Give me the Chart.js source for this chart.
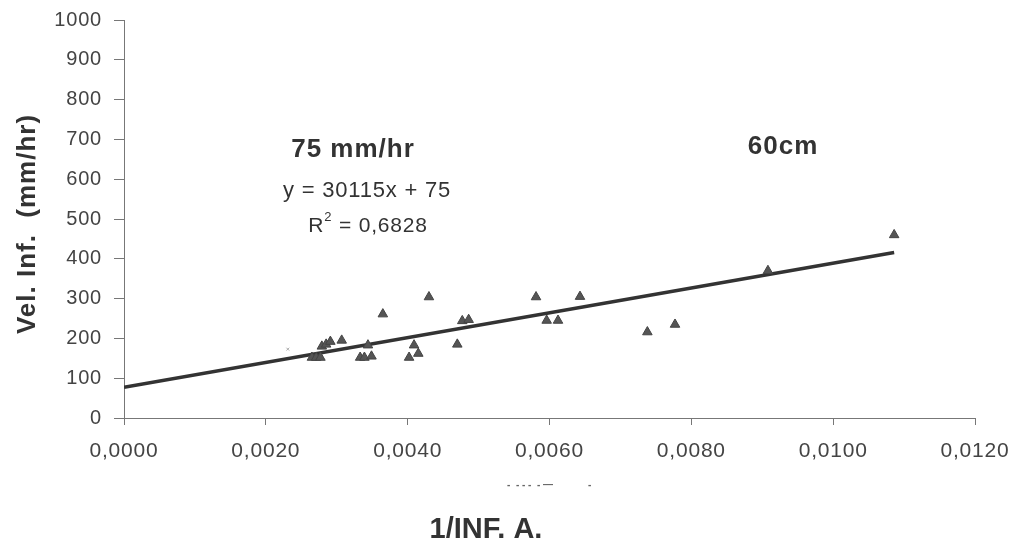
<!DOCTYPE html>
<html><head><meta charset="utf-8">
<script src="https://cdn.jsdelivr.net/npm/chart.js@4.4.1/dist/chart.umd.min.js"></script>
<style>html,body{margin:0;padding:0;background:#fff;overflow:hidden}#wrap{width:1017px;height:546px;position:relative}canvas{display:block}</style>
</head><body><div id="wrap"><canvas id="c" width="1017" height="546"></canvas></div>
<script>
// data: x = 1/INF. A., y = Vel. Inf. (mm/hr)
const ptsX = [0.00265,0.00271,0.00277,0.00279,0.00285,0.00291,0.00307,0.00333,0.00339,0.00344,0.00349,0.00365,0.00402,0.00409,0.00415,0.00430,0.00470,0.00477,0.00486,0.00581,0.00596,0.00612,0.00643,0.00738,0.00777,0.00908,0.01086];
const ptsY = [152,152,152,180,185,192,195,152,152,183,155,261,152,183,162,304,185,244,247,304,245,245,305,216,235,370,460];
const oddX = [0.00231];
const oddY = [173];
const trendX = [0.0, 0.01086];
const trendY = [77, 416];
const xTicks = [0,0.002,0.004,0.006,0.008,0.010,0.012];
const yTicks = [0,100,200,300,400,500,600,700,800,900,1000];

const zip=(a,b)=>a.map((v,i)=>({x:v,y:b[i]}));
const FONT='"Liberation Sans", Arial, sans-serif';
const spacing = {
  id:'spacing',
  beforeDraw(ch){ ch.ctx.letterSpacing='0.8px'; },
  beforeDatasetsDraw(ch){ ch.ctx.letterSpacing='0px'; }
};
const annot = {
  id:'annot',
  afterDraw(ch){
    const c=ch.ctx; c.save();
    c.fillStyle='#333'; c.textAlign='center'; c.textBaseline='middle';
    c.letterSpacing='1px';
    c.font='bold 26px '+FONT;
    c.fillText('75 mm/hr',353,150);
    c.fillText('60cm',783,147);
    c.letterSpacing='0.8px';
    c.font='22px '+FONT;
    c.fillText('y = 30115x + 75',367,191);
    // R² line
    c.font='21px '+FONT;
    const t1='R', t2=' = 0,6828';
    const w1=c.measureText(t1).width, w2=c.measureText(t2).width;
    c.font='13px '+FONT;
    const ws=c.measureText('2').width;
    const x0=368-(w1+ws+w2)/2;
    c.textAlign='left';
    c.font='21px '+FONT;
    c.fillText(t1,x0,226);
    c.font='13px '+FONT;
    c.fillText('2',x0+w1,217);
    c.font='21px '+FONT;
    c.fillText(t2,x0+w1+ws,226);
    // faint cut-off fragment under the x labels
    c.letterSpacing='0px';
    c.fillStyle='#666';
    c.font='bold 10px '+FONT;
    c.fillText('-  - - -  - —',507,485);
    c.fillText('-',588,485);
    // axis titles
    c.textAlign='center';
    c.fillStyle='#333';
    c.font='bold 29px '+FONT;
    c.fillText('1/INF. A.',486,530);
    c.save(); c.translate(28,224); c.rotate(-Math.PI/2);
    c.letterSpacing='1px';
    c.font='bold 26px '+FONT;
    c.fillText('Vel. Inf.  (mm/hr)',0,0); c.restore();
    c.restore();
  }
};
new Chart(document.getElementById('c'),{
  type:'scatter',
  data:{datasets:[
    {label:'trend',type:'line',data:zip(trendX,trendY),borderColor:'#333',borderWidth:3.5,pointRadius:0,showLine:true,fill:false,order:2},
    {label:'60cm',data:zip(ptsX,ptsY),pointStyle:'triangle',pointRadius:5.5,backgroundColor:'#555',borderColor:'#444',borderWidth:1,order:1},
    {label:'odd',data:zip(oddX,oddY),pointStyle:'crossRot',pointRadius:2,borderColor:'#aaa',borderWidth:1,order:1}
  ]},
  plugins:[spacing,annot],
  options:{
    responsive:false,animation:false,devicePixelRatio:1,
    layout:{padding:{top:20,right:42,left:0,bottom:0}},
    plugins:{legend:{display:false},tooltip:{enabled:false}},
    scales:{
      x:{type:'linear',min:0,max:0.012,
        afterFit(s){s.height=128;s.paddingLeft=0;s.paddingRight=0;},
        afterBuildTicks(s){s.ticks=xTicks.map(v=>({value:v}));},
        grid:{display:true,drawOnChartArea:false,drawTicks:true,tickLength:7,color:'#777'},
        border:{display:true,color:'#777',width:1},
        ticks:{color:'#444',padding:14,maxRotation:0,autoSkip:false,font:{family:FONT,size:21},callback:v=>v.toFixed(4).replace('.',',')}
      },
      y:{type:'linear',min:0,max:1000,
        afterFit(s){s.width=124;s.paddingTop=0;s.paddingBottom=0;},
        afterBuildTicks(s){s.ticks=yTicks.map(v=>({value:v}));},
        grid:{display:true,drawOnChartArea:false,drawTicks:true,tickLength:10,color:'#777'},
        border:{display:true,color:'#777',width:1},
        ticks:{color:'#444',padding:12,autoSkip:false,font:{family:FONT,size:20},callback:v=>String(v)}
      }
    }
  }
});
</script></body></html>
